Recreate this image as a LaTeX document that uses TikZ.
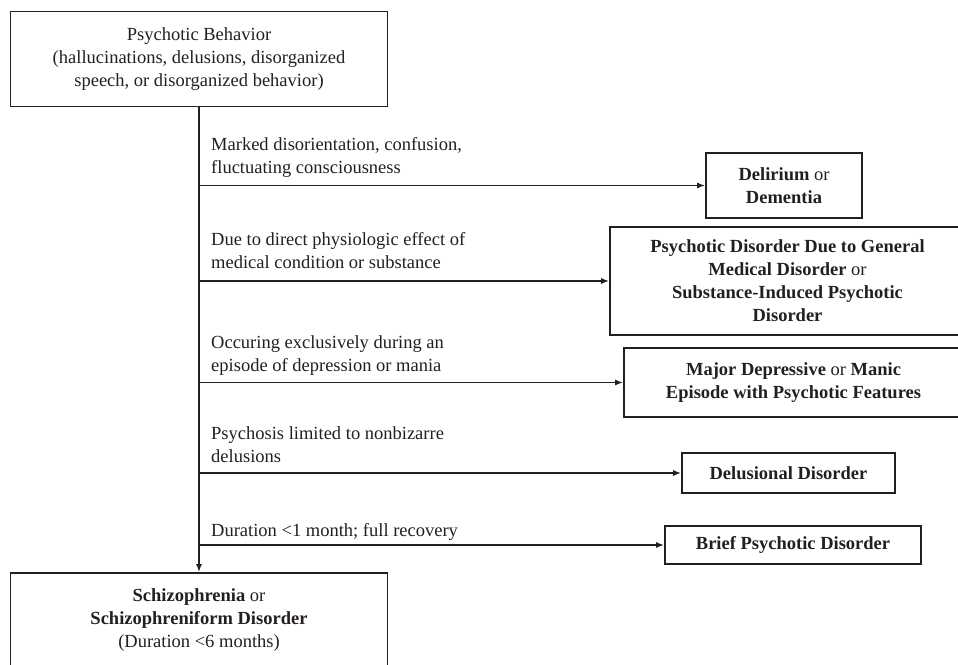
\documentclass[tikz,border=0pt]{standalone}
\usepackage{fontspec}
\setmainfont{Liberation Serif}
\usetikzlibrary{arrows.meta}
\definecolor{ink}{HTML}{231F20}
\begin{document}
\begin{tikzpicture}[x=1pt,y=-1pt,
  every node/.style={font=\fontsize{18.5}{23}\selectfont, text=ink},
  box/.style={draw=ink, line width=1.6pt, align=center, inner sep=0pt},
  lbl/.style={align=left, anchor=north west, inner sep=0pt},
  arr/.style={draw=ink, line width=1.7pt, -{Latex[length=8pt,width=6pt]}}]
\useasboundingbox (0,0) rectangle (958,664);
\clip (0,0) rectangle (958,664);
\node[box, minimum width=377pt, minimum height=95pt] (top) at (199,59)
  {Psychotic Behavior\\(hallucinations, delusions, disorganized\\speech, or disorganized behavior)};
\node[box, minimum width=377pt, minimum height=95pt] (bot) at (199,620.5)
  {\textbf{Schizophrenia} or\\\textbf{Schizophreniform Disorder}\\(Duration <6 months)};
\node[box, minimum width=156pt, minimum height=65pt] (del) at (784,185.5)
  {\textbf{Delirium} or\\\textbf{Dementia}};
\node[box, minimum width=355pt, minimum height=108pt] (psy) at (787.5,281)
  {\textbf{Psychotic Disorder Due to General}\\\textbf{Medical Disorder} or\\\textbf{Substance-Induced Psychotic}\\\textbf{Disorder}};
\node[box, minimum width=339pt, minimum height=69pt] (maj) at (793.5,382.5)
  {\textbf{Major Depressive} or \textbf{Manic}\\\textbf{Episode with Psychotic Features}};
\node[box, minimum width=213pt, minimum height=40pt] (dsd) at (788.5,473)
  {\textbf{Delusional Disorder}};
\node[box, minimum width=256pt, minimum height=38pt] (bri) at (793,545)
  {\textbf{Brief Psychotic Disorder}};
\node[lbl] (l1) at (211,137.5) {Marked disorientation, confusion,\\fluctuating consciousness};
\node[lbl] (l2) at (211,232) {Due to direct physiologic effect of\\medical condition or substance};
\node[lbl] (l3) at (211,335) {Occuring exclusively during an\\episode of depression or mania};
\node[lbl] (l4) at (211,426) {Psychosis limited to nonbizarre\\delusions};
\node[lbl] (l5) at (211,523) {Duration <1 month; full recovery};
\draw[arr] (top.south) -- (bot.north);
\draw[arr] (top.south |- del.west) -- (del.west);
\draw[arr] (top.south |- psy.west) -- (psy.west);
\draw[arr] (top.south |- maj.west) -- (maj.west);
\draw[arr] (top.south |- dsd.west) -- (dsd.west);
\draw[arr] (top.south |- bri.west) -- (bri.west);
\end{tikzpicture}
\end{document}
